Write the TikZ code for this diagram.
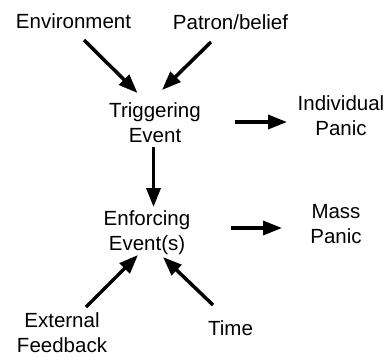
\documentclass[tikz,border=0pt]{standalone}
\usepackage{fontspec}
\setmainfont{Liberation Sans}
\usetikzlibrary{arrows.meta}
\begin{document}
\begin{tikzpicture}[x=1pt,y=-1pt,
  lbl/.style={anchor=base,align=center,inner sep=0pt,font=\fontsize{20.5}{25}\selectfont},
  arr/.style={line width=3.5pt,-{Triangle[length=19pt,width=14pt]}}]
\useasboundingbox (0,0) rectangle (390,356);
\node[lbl] (env) at (73.5,28.5) {Environment};
\node[lbl] (pat) at (230.5,29) {Patron/belief};
\node[lbl] (trig) at (155,142.5) {Triggering\\Event};
\node[lbl] (ind) at (341,135) {Individual\\Panic};
\node[lbl] (enf) at (147,250) {Enforcing\\Event(s)};
\node[lbl] (mass) at (336,243.3) {Mass\\Panic};
\node[lbl] (ext) at (62,352.7) {External\\Feedback};
\node[lbl] (time) at (230.5,335) {Time};
% connector end points
\coordinate (envS) at (84,40);   \coordinate (trigNW) at (137.5,93);
\coordinate (patS) at (211,42);  \coordinate (trigNE) at (162,90);
\coordinate (trigE) at (235,122); \coordinate (indW) at (287,122);
\coordinate (trigS) at (153.5,147); \coordinate (enfN) at (153.5,207);
\coordinate (enfE) at (231,228);  \coordinate (massW) at (282,228);
\coordinate (extN) at (86,307);   \coordinate (enfSW) at (138,255);
\coordinate (timeN) at (213,305); \coordinate (enfSE) at (163,257);
\draw[arr] (envS) -- (trigNW);
\draw[arr] (patS) -- (trigNE);
\draw[arr] (trigE) -- (indW);
\draw[arr] (trigS) -- (enfN);
\draw[arr] (enfE) -- (massW);
\draw[arr] (extN) -- (enfSW);
\draw[arr] (timeN) -- (enfSE);
\end{tikzpicture}
\end{document}
